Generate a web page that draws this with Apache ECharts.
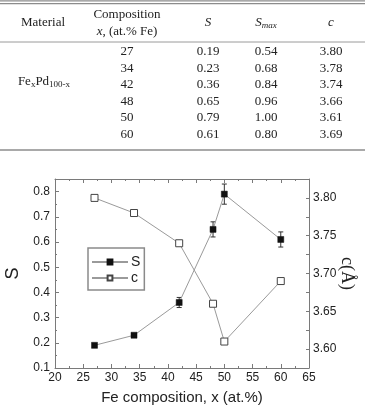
<!DOCTYPE html>
<html>
<head>
<meta charset="utf-8">
<script src="https://cdn.jsdelivr.net/npm/echarts@6/dist/echarts.min.js"></script>
<style>
html,body{margin:0;padding:0;background:#fff;}
#chart{width:365px;height:409px;}
</style>
</head>
<body>
<div id="chart"></div>
<script>
// ---- data ----
const compositions = [27, 34, 42, 48, 50, 60];          // x, at.% Fe
const sValues      = [0.19, 0.23, 0.36, 0.65, 0.79, 0.61];
const sMaxValues   = [0.54, 0.68, 0.84, 0.96, 1.00, 0.80];
const cValues      = [3.80, 3.78, 3.74, 3.66, 3.61, 3.69];
const sErrors      = [0, 0, 0.02, 0.03, 0.04, 0.03];
const tableHeaders = ['Material', 'Composition', 'S', 'Smax', 'c'];

const serif = '"Liberation Serif", "DejaVu Serif", serif';
const sans = '"Liberation Sans", Arial, sans-serif';
const txt = '#222';

// ---- table graphics ----
const colX = [43, 127, 208, 266, 331];
const rowY0 = 52, rowStep = 16.5;
const graphics = [];
function line(y, w, color) {
  graphics.push({type:'line', shape:{x1:0, y1:y, x2:365, y2:y}, style:{stroke:color, lineWidth:w}, silent:true});
}
line(0.8, 1.2, '#8c8c8c');
line(3.6, 1.2, '#8c8c8c');
line(42, 1, '#9a9a9a');
line(150, 1.4, '#8c8c8c');
function text(x, y, t, rich, extra) {
  graphics.push({type:'text', x:x, y:y, silent:true, style:Object.assign({
    text:t, align:'center', verticalAlign:'middle', fontSize:13, fontFamily:serif, fill:txt, rich:rich || {}
  }, extra || {})});
}
const subRich = {
  sub:{fontSize:9, fontFamily:serif, fill:txt, padding:[6,0,0,0]},
  isub:{fontSize:9, fontFamily:serif, fontStyle:'italic', fill:txt, padding:[6,0,0,0]},
  i:{fontSize:13, fontFamily:serif, fontStyle:'italic', fill:txt}
};
text(colX[0], 23, tableHeaders[0]);
text(colX[1], 15, tableHeaders[1]);
text(colX[1], 32, '{i|x}, (at.% Fe)', subRich);
text(colX[2], 23, '{i|' + tableHeaders[2] + '}', subRich);
text(colX[3], 23, '{i|S}{isub|max}', subRich);
text(colX[4], 23, '{i|' + tableHeaders[4] + '}', subRich);
text(colX[0] + 1, 82, 'Fe{sub|x}Pd{sub|100-x}', subRich);
compositions.forEach((x, i) => {
  const y = rowY0 + i * rowStep;
  text(colX[1], y, String(x));
  text(colX[2], y, sValues[i].toFixed(2));
  text(colX[3], y, sMaxValues[i].toFixed(2));
  text(colX[4], y, cValues[i].toFixed(2));
});

// ---- chart ----
const sData = compositions.map((x, i) => [x, sValues[i]]);
const cData = compositions.map((x, i) => [x, cValues[i]]);
const errData = compositions.map((x, i) => [x, sValues[i] - sErrors[i], sValues[i] + sErrors[i], sErrors[i]])
  .filter(d => d[3] > 0);

const axisCol = '#7a7a7a';
const chart = echarts.init(document.getElementById('chart'), null, {renderer:'canvas'});
chart.setOption({
  animation:false,
  backgroundColor:'#fff',
  graphic: graphics,
  grid:{left:55, right:56, top:179, bottom:41, containLabel:false, outerBoundsMode:'none'},
  legend:{
    orient:'vertical', left:88, top:248,
    data:['S','c'],
    itemWidth:36, itemHeight:6, itemGap:2,
    padding:[7,4,5,3],
    borderColor:'#8a8a8a', borderWidth:1.5,
    textStyle:{fontSize:14, fontFamily:sans, color:txt, padding:[0,0,0,-2]}
  },
  xAxis:[{
    type:'value', min:20, max:65, interval:5,
    name:'Fe composition, x (at.%)', nameLocation:'middle', nameGap:22, nameMoveOverlap:false,
    nameTextStyle:{fontSize:15, fontFamily:sans, color:txt},
    axisLine:{lineStyle:{color:axisCol, width:1}},
    axisTick:{inside:true, length:4, lineStyle:{color:axisCol}},
    minorTick:{show:true, splitNumber:2, length:2, lineStyle:{color:axisCol}},
    axisLabel:{fontSize:12, fontFamily:sans, color:txt, margin:4},
    splitLine:{show:false}
  },{
    type:'value', min:20, max:65, interval:5, position:'top',
    axisLine:{show:true, lineStyle:{color:axisCol, width:1}},
    axisTick:{show:true, inside:true, length:4, lineStyle:{color:axisCol}},
    minorTick:{show:true, splitNumber:2, length:2, lineStyle:{color:axisCol}},
    axisLabel:{show:false}, splitLine:{show:false}
  }],
  yAxis:[{
    type:'value', min:0.1, max:0.85, interval:0.1,
    name:'S', nameLocation:'middle', nameGap:33, nameMoveOverlap:false,
    nameTextStyle:{fontSize:18, fontFamily:sans, color:txt},
    axisLine:{show:true, lineStyle:{color:axisCol, width:1}},
    axisTick:{show:true, inside:true, length:4, lineStyle:{color:axisCol}},
    minorTick:{show:true, splitNumber:2, length:2, lineStyle:{color:axisCol}},
    axisLabel:{fontSize:12, fontFamily:sans, color:txt, margin:5,
      formatter: v => (v > 0.845 ? '' : v.toFixed(1))},
    splitLine:{show:false}
  },{
    type:'value', min:3.575, max:3.825, interval:0.025, position:'right',
    name:'c(Å)', nameLocation:'middle', nameGap:29, nameRotate:-90, nameMoveOverlap:false,
    nameTextStyle:{fontSize:18, fontFamily:serif, color:txt},
    axisLine:{show:true, lineStyle:{color:axisCol, width:1}},
    axisTick:{show:true, inside:true, length:3, lineStyle:{color:axisCol}},
    axisLabel:{fontSize:12, fontFamily:sans, color:txt, margin:4,
      formatter: v => (Math.round(v * 1000) % 50 === 0 ? v.toFixed(2) : '')},
    splitLine:{show:false}
  }],
  series:[{
    type:'custom', name:'err', xAxisIndex:0, yAxisIndex:0, z:1,
    data: errData,
    renderItem:(params, api) => {
      const x = api.value(0);
      const lo = api.coord([x, api.value(1)]);
      const hi = api.coord([x, api.value(2)]);
      const w = 2.5, st = {stroke:'#333', lineWidth:1};
      return {type:'group', children:[
        {type:'line', shape:{x1:lo[0], y1:lo[1], x2:hi[0], y2:hi[1]}, style:st},
        {type:'line', shape:{x1:hi[0]-w, y1:hi[1], x2:hi[0]+w, y2:hi[1]}, style:st},
        {type:'line', shape:{x1:lo[0]-w, y1:lo[1], x2:lo[0]+w, y2:lo[1]}, style:st}
      ]};
    }
  },{
    type:'line', name:'S', xAxisIndex:0, yAxisIndex:0, z:3,
    data:sData, symbol:'rect', symbolSize:6,
    lineStyle:{color:'#9a9a9a', width:1},
    itemStyle:{color:'#111', borderColor:'#111', borderWidth:0.5}
  },{
    type:'line', name:'c', xAxisIndex:0, yAxisIndex:1, z:3,
    data:cData, symbol:'rect', symbolSize:7,
    lineStyle:{color:'#9a9a9a', width:1},
    itemStyle:{color:'#fff', borderColor:'#444', borderWidth:1}
  }]
});
</script>
</body>
</html>
